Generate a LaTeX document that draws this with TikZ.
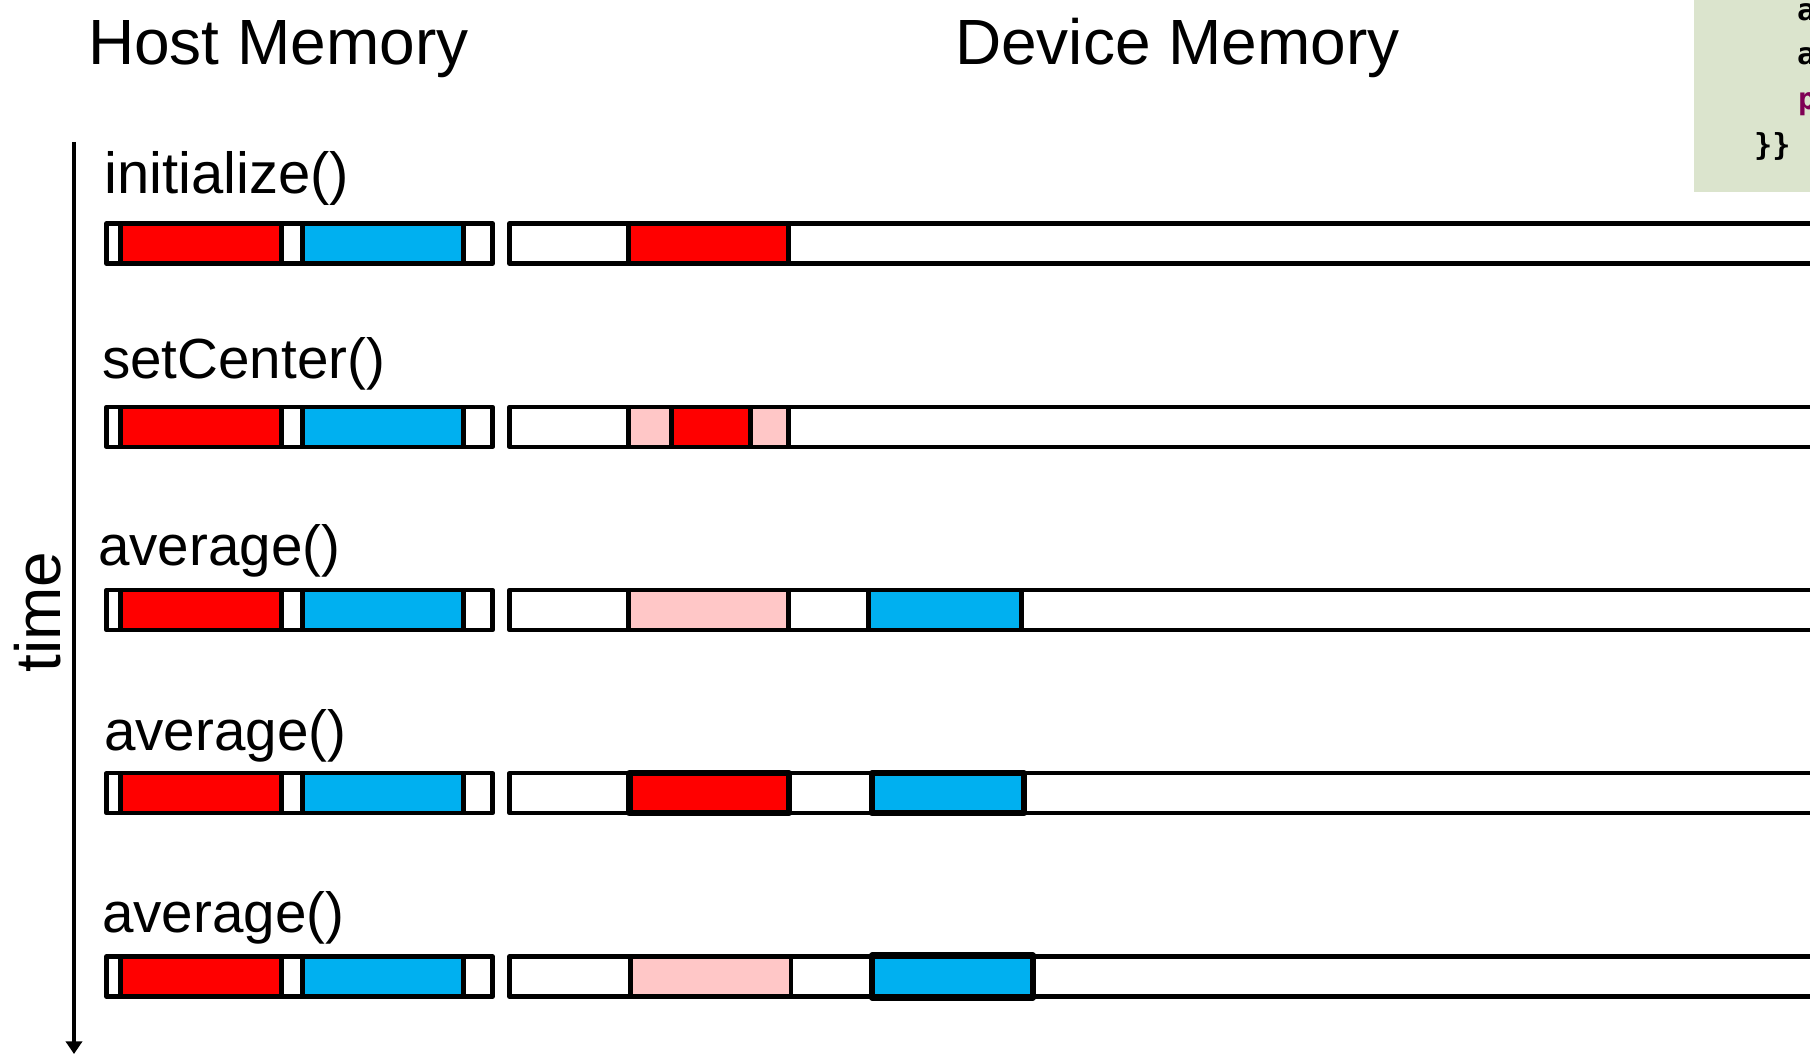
\documentclass[tikz,border=0pt]{standalone}
\usepackage{fontspec}
\usepackage{tikz}
\usetikzlibrary{arrows.meta}
\setmainfont{Liberation Sans}
\newfontfamily\codefont{DejaVu Sans Mono}
\definecolor{scarlet}{RGB}{255, 0, 0}
\definecolor{sky}{RGB}{0, 176, 240}
\definecolor{blush}{RGB}{255, 199, 199}
\definecolor{sage}{RGB}{219, 228, 205}
\definecolor{plum}{RGB}{127, 0, 85}
\def\barh{0.40}
\def\rowa{2.235}
\def\rowb{4.0675}
\def\rowc{5.90}
\def\rowd{7.7325}
\def\rowe{9.565}
\def\hostbar#1{%
  \draw[fill=white] (1.065, #1) rectangle (4.925, #1+\barh);
  \draw[fill=scarlet] (1.205, #1) rectangle (2.815, #1+\barh);
  \draw[fill=sky] (3.025, #1) rectangle (4.635, #1+\barh);
  \draw[fill=white] (5.095, #1) rectangle (18.40, #1+\barh);}

\begin{document}
\begin{tikzpicture}[x=1cm, y=-1cm, line width=1.25pt, line join=round,
    title/.style={anchor=base west, inner sep=0pt, font=\fontsize{18.2}{22}\selectfont},
    call/.style={anchor=base west, inner sep=0pt, font=\fontsize{16.1}{19}\selectfont},
    code/.style={anchor=base west, inner sep=0pt, font=\codefont\bfseries\fontsize{8.6}{10}\selectfont},
    thick block/.style={line width=1.8pt}]

                 \useasboundingbox (0, 0) rectangle (18.10, 10.54);

                 % code panel, cut off at the right
                 \fill[sage] (16.94, -0.10) rectangle (18.30, 1.92);
                 \node[code] (codea) at (17.95, 0.205) {a};
                 \node[code] (codeb) at (17.95, 0.65) {a};
                 \node[code, text=plum] (codec) at (17.96, 1.10) {p};
                 \node[code] (coded) at (17.52, 1.55) {\}\}};

                 \node[title] (host) at (0.86, 0.65) {Host Memory};
                 \node[title] (device) at (9.53, 0.65) {Device Memory};

                 \node[rotate=90, anchor=base, inner sep=0pt, font=\fontsize{18.2}{22}\selectfont] (time) at (0.60, 6.12) {time};
                 \coordinate (timestart) at (0.74, 1.42);
                 \coordinate (timeend) at (0.74, 10.54);
                 \draw[line width=1.1pt, -{Triangle[width=4.6pt, length=3.6pt]}] (timestart) -- (timeend);

                 % initialize()
                 \node[call, font=\fontsize{16.5}{19}\selectfont] (init) at (1.02, 1.94) {initialize()};
                 \hostbar{\rowa}
                 \draw[fill=scarlet] (6.285, \rowa) rectangle (7.885, \rowa+\barh);

                 % setCenter()
                 \node[call] (center) at (1.00, 3.78) {setCenter()};
                 \hostbar{\rowb}
                 \draw[fill=blush] (6.285, \rowb) rectangle (7.885, \rowb+\barh);
                 \draw[fill=scarlet] (6.715, \rowb) rectangle (7.505, \rowb+\barh);

                 % average() first pass
                 \node[call] (avga) at (0.96, 5.655) {average()};
                 \hostbar{\rowc}
                 \draw[fill=blush] (6.285, \rowc) rectangle (7.885, \rowc+\barh);
                 \draw[fill=sky] (8.685, \rowc) rectangle (10.215, \rowc+\barh);

                 % average() second pass
                 \node[call] (avgb) at (1.02, 7.50) {average()};
                 \hostbar{\rowd}
                 \draw[fill=scarlet, thick block] (6.295, \rowd) rectangle (7.89, \rowd+\barh);
                 \draw[fill=sky, thick block] (8.72, \rowd) rectangle (10.24, \rowd+\barh);

                 % average() third pass
                 \node[call] (avgc) at (1.00, 9.32) {average()};
                 \hostbar{\rowe}
                 \draw[fill=blush] (6.305, \rowe) rectangle (7.91, \rowe+\barh);
                 \draw[fill=sky, thick block] (8.72, \rowe-0.01) rectangle (10.33, \rowe+\barh+0.01);

             \end{tikzpicture}
\end{document}
